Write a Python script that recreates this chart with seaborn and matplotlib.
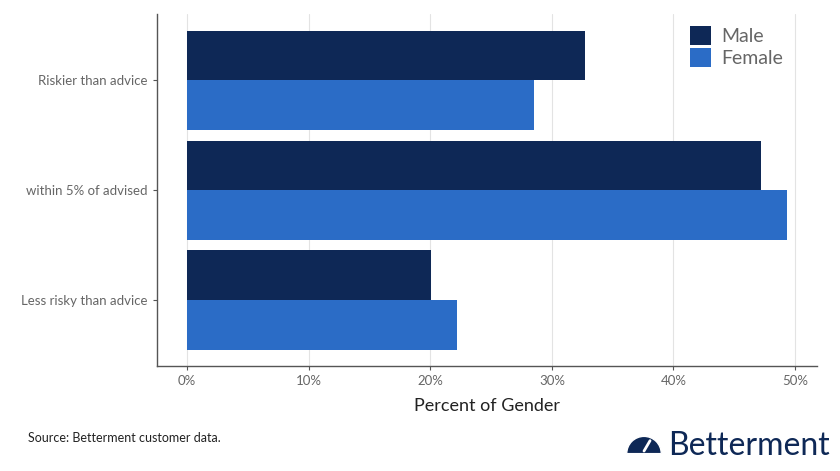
import pandas as pd
import seaborn as sns
import matplotlib.pyplot as plt
from matplotlib.patches import Wedge
from matplotlib.ticker import FuncFormatter

# Data
categories = ['Riskier than advice', 'within 5% of advised', 'Less risky than advice']
male = [32.7, 47.2, 20.1]
female = [28.5, 49.3, 22.2]
genders = ['Male', 'Female']
colors = ['#0E2856', '#2B6CC6']

df = pd.DataFrame({
    'risk': categories * 2,
    'pct': male + female,
    'gender': ['Male'] * 3 + ['Female'] * 3,
})

sns.set_style('white')
plt.rcParams['font.family'] = ['Lato', 'DejaVu Sans']

fig = plt.figure(figsize=(8.4, 4.71), dpi=100)
ax = fig.add_axes([157 / 840, 1 - 366 / 471, 660 / 840, 352 / 471])

sns.barplot(data=df, x='pct', y='risk', hue='gender', order=categories,
            hue_order=genders, palette=colors, orient='h', width=0.9,
            saturation=1, linewidth=0, ax=ax, zorder=2)

ax.set_xlim(-2.47, 51.8)
ax.set_ylim(2.6, -0.6)
ax.set_xticks([0, 10, 20, 30, 40, 50])
ax.xaxis.set_major_formatter(FuncFormatter(lambda v, p: f'{int(v)}%'))
ax.grid(axis='x', color='#e3e3e3', linewidth=0.8, zorder=0)
ax.set_axisbelow(True)

for s in ['top', 'right']:
    ax.spines[s].set_visible(False)
for s in ['left', 'bottom']:
    ax.spines[s].set_color('#555555')
    ax.spines[s].set_linewidth(1.0)

ax.tick_params(axis='both', length=3, color='#555555', labelcolor='#666666',
               labelsize=9.5, left=True, bottom=True)
ax.set_ylabel('')
ax.set_xlabel('Percent of Gender', fontsize=13, color='#222222', labelpad=8)

leg = ax.legend(loc='upper right', frameon=False, fontsize=14, handlelength=1.1,
                handleheight=1.1, handletextpad=0.5, labelspacing=0.15,
                bbox_to_anchor=(0.975, 1.015))
for t in leg.get_texts():
    t.set_color('#666666')

fig.text(28 / 840, 1 - 438 / 471, 'Source: Betterment customer data.',
         fontsize=9, color='#222222', va='center')

# Logo
fig.text(668 / 840, 1 - 446 / 471, 'Betterment', fontsize=23, color='#0E2856',
         va='center', ha='left')
logo = fig.add_axes([625 / 840, 1 - 459 / 471, 38 / 840, 28 / 471])
logo.set_xlim(-1.1, 1.1)
logo.set_ylim(-0.1, 1.1)
logo.set_aspect('equal')
logo.axis('off')
logo.add_patch(Wedge((0, 0), 1.0, 0, 180, facecolor='#0E2856'))
logo.plot([0, 0.35], [0.15, 0.75], color='white', linewidth=2)

fig.savefig('out.png', dpi=100)
